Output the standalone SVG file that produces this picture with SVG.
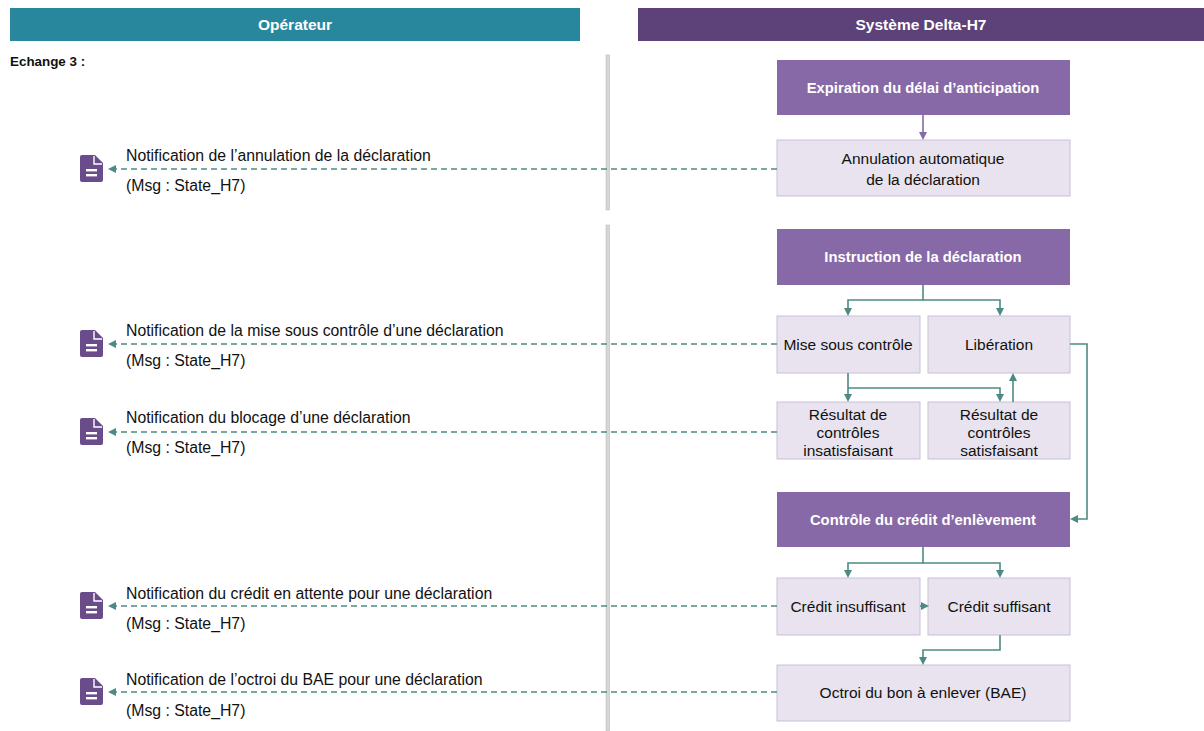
<svg xmlns="http://www.w3.org/2000/svg" width="1204" height="731" viewBox="0 0 1204 731">
<style>
text{font-family:"Liberation Sans",Arial,sans-serif;}
.hdr{fill:#fff;font-weight:bold;font-size:15.5px;text-anchor:middle;}
.dark{fill:#8669a6;}
.light{fill:#e8e3ee;stroke:#c9bfd9;stroke-width:1;}
.wt{fill:#fff;font-weight:bold;font-size:14.8px;text-anchor:middle;}
.bt{fill:#111;font-size:15.5px;text-anchor:middle;}
.nt{fill:#111;font-size:15.8px;}
.con{fill:none;stroke:#4e8a84;stroke-width:1.6;}
.dash{fill:none;stroke:#4e8a84;stroke-width:1.4;stroke-dasharray:6,4;}
.sep{fill:#d6d6d6;stroke:#bdbdbd;stroke-width:0.6;}
</style>
<defs>
<marker id="ah" markerWidth="8" markerHeight="8" refX="6" refY="4" orient="auto" markerUnits="userSpaceOnUse">
<path d="M0,0 L8,4 L0,8 z" fill="#4e8a84"/>
</marker>
<marker id="ahp" markerWidth="8" markerHeight="8" refX="6" refY="4" orient="auto" markerUnits="userSpaceOnUse">
<path d="M0,0 L8,4 L0,8 z" fill="#8669a6"/>
</marker>
<g id="doc">
<path d="M2,0 H15 L23,8 V25 Q23,27 21,27 H2 Q0,27 0,25 V2 Q0,0 2,0 Z" fill="#6b4c8a"/>
<path d="M14,1 V9 H22" fill="none" stroke="#fff" stroke-width="1.4"/>
<rect x="6" y="14" width="11" height="2.4" fill="#fff"/>
<rect x="6" y="19" width="11" height="2.4" fill="#fff"/>
</g>
</defs>
<rect width="1204" height="731" fill="#fff"/>

<g id="header-operateur">
<rect x="10" y="8" width="570" height="33" fill="#28869d"/>
<text class="hdr" x="295" y="30">Opérateur</text>
</g>
<g id="header-systeme">
<rect x="638" y="8" width="566" height="33" fill="#5d427a"/>
<text class="hdr" x="921" y="30">Système Delta-H7</text>
</g>
<text x="10" y="66" style="font-weight:bold;font-size:13.4px;fill:#111">Echange 3 :</text>

<g id="separators">
<rect class="sep" x="606" y="55" width="3.5" height="155"/>
<rect class="sep" x="606" y="225" width="3.5" height="506"/>
</g>

<g id="n-expiration">
<rect class="dark" x="777" y="60" width="293" height="55"/>
<text class="wt" x="923" y="93">Expiration du délai d’anticipation</text>
</g>
<g id="n-annulation">
<rect class="light" x="777" y="140" width="293" height="56"/>
<text class="bt" x="923" y="164">Annulation automatique</text>
<text class="bt" x="923" y="185">de la déclaration</text>
</g>
<g id="n-instruction">
<rect class="dark" x="777" y="229" width="293" height="56"/>
<text class="wt" x="923" y="262">Instruction de la déclaration</text>
</g>
<g id="n-mise">
<rect class="light" x="777" y="316" width="143" height="57"/>
<text class="bt" x="848" y="350">Mise sous contrôle</text>
</g>
<g id="n-liberation">
<rect class="light" x="928" y="316" width="142" height="57"/>
<text class="bt" x="999" y="350">Libération</text>
</g>
<g id="n-insat">
<rect class="light" x="777" y="402" width="143" height="57"/>
<text class="bt" x="848" y="420">Résultat de</text>
<text class="bt" x="848" y="438">contrôles</text>
<text class="bt" x="848" y="456">insatisfaisant</text>
</g>
<g id="n-sat">
<rect class="light" x="928" y="402" width="142" height="57"/>
<text class="bt" x="999" y="420">Résultat de</text>
<text class="bt" x="999" y="438">contrôles</text>
<text class="bt" x="999" y="456">satisfaisant</text>
</g>
<g id="n-credit">
<rect class="dark" x="777" y="492" width="293" height="55"/>
<text class="wt" x="923" y="525">Contrôle du crédit d’enlèvement</text>
</g>
<g id="n-insuf">
<rect class="light" x="777" y="578" width="143" height="57"/>
<text class="bt" x="848" y="612">Crédit insuffisant</text>
</g>
<g id="n-suf">
<rect class="light" x="928" y="578" width="142" height="57"/>
<text class="bt" x="999" y="612">Crédit suffisant</text>
</g>
<g id="n-octroi">
<rect class="light" x="777" y="665" width="293" height="56"/>
<text class="bt" x="923" y="698">Octroi du bon à enlever (BAE)</text>
</g>

<g id="operator-notes">
<use href="#doc" x="80" y="155"/>
<text class="nt" x="126" y="161">Notification de l’annulation de la déclaration</text>
<text class="nt" x="126" y="191">(Msg : State_H7)</text>
<use href="#doc" x="80" y="330"/>
<text class="nt" x="126" y="336">Notification de la mise sous contrôle d’une déclaration</text>
<text class="nt" x="126" y="366">(Msg : State_H7)</text>
<use href="#doc" x="80" y="418"/>
<text class="nt" x="126" y="423">Notification du blocage d’une déclaration</text>
<text class="nt" x="126" y="453">(Msg : State_H7)</text>
<use href="#doc" x="80" y="592"/>
<text class="nt" x="126" y="599">Notification du crédit en attente pour une déclaration</text>
<text class="nt" x="126" y="629">(Msg : State_H7)</text>
<use href="#doc" x="80" y="678"/>
<text class="nt" x="126" y="685">Notification de l’octroi du BAE pour une déclaration</text>
<text class="nt" x="126" y="716">(Msg : State_H7)</text>
</g>

<g id="connectors">
<path d="M923,115 V138" fill="none" stroke="#8669a6" stroke-width="1.6" marker-end="url(#ahp)"/>
<path class="con" d="M923,285 V300 H848 V314" marker-end="url(#ah)"/>
<path class="con" d="M923,300 H1000 V314" marker-end="url(#ah)"/>
<path class="con" d="M848,373 V388 V400" marker-end="url(#ah)"/>
<path class="con" d="M848,388 H1000 V400" marker-end="url(#ah)"/>
<path class="con" d="M1013,402 V375" marker-end="url(#ah)"/>
<path class="con" d="M1070,344 H1087 V519 H1072" marker-end="url(#ah)"/>
<path class="con" d="M923,547 V563 H848 V576" marker-end="url(#ah)"/>
<path class="con" d="M923,563 H1000 V576" marker-end="url(#ah)"/>
<path class="con" d="M920,606 H927" marker-end="url(#ah)"/>
<path class="con" d="M1000,635 V650 H923 V663" marker-end="url(#ah)"/>
<path class="dash" d="M777,169 H110" marker-end="url(#ah)"/>
<path class="dash" d="M777,344 H110" marker-end="url(#ah)"/>
<path class="dash" d="M777,432 H110" marker-end="url(#ah)"/>
<path class="dash" d="M777,606 H110" marker-end="url(#ah)"/>
<path class="dash" d="M777,692 H110" marker-end="url(#ah)"/>
</g>
</svg>
